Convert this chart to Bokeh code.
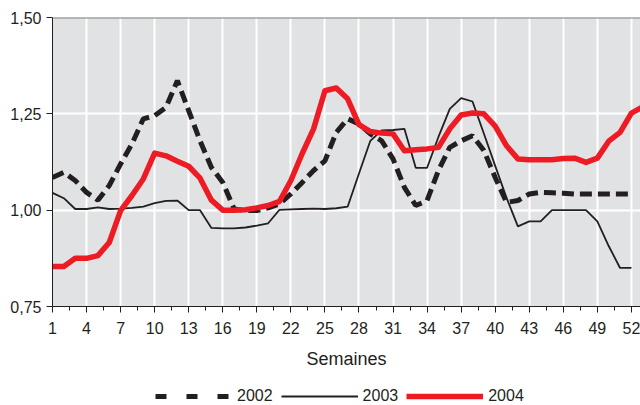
import numpy as np
from bokeh.plotting import figure
from bokeh.layouts import column
from bokeh.models import (FixedTicker, CustomJSTickFormatter, Span, Legend, LegendItem,
                          Range1d, ColumnDataSource)
from bokeh.embed import file_html
from bokeh.resources import INLINE

# ---- data ----
weeks_2002 = list(range(1, 53))
values_2002 = [1.085, 1.098, 1.077, 1.046, 1.026, 1.064, 1.120, 1.172, 1.237, 1.245,
               1.267, 1.336, 1.258, 1.180, 1.111, 1.072, 1.003, 0.999, 0.999, 1.006,
               1.016, 1.042, 1.072, 1.103, 1.128, 1.202, 1.237, 1.224, 1.198, 1.180,
               1.133, 1.059, 1.012, 1.025, 1.103, 1.163, 1.180, 1.193, 1.155, 1.085,
               1.020, 1.025, 1.042, 1.046, 1.045, 1.044, 1.042, 1.042, 1.042, 1.042,
               1.042, 1.042]

weeks_2003 = list(range(1, 53))
values_2003 = [1.045, 1.031, 1.003, 1.003, 1.007, 1.003, 1.004, 1.006, 1.009, 1.018,
               1.024, 1.025, 1.000, 1.000, 0.954, 0.953, 0.953, 0.955, 0.960, 0.966,
               1.001, 1.002, 1.003, 1.004, 1.003, 1.005, 1.009, 1.095, 1.180, 1.207,
               1.208, 1.211, 1.110, 1.110, 1.190, 1.263, 1.291, 1.282, 1.199, 1.115,
               1.032, 0.958, 0.971, 0.971, 1.000, 1.000, 1.000, 1.000, 0.971, 0.907,
               0.850, 0.850]

weeks_2004 = list(range(1, 54))
values_2004 = [0.854, 0.854, 0.875, 0.875, 0.882, 0.916, 0.999, 1.038, 1.081, 1.148,
               1.141, 1.127, 1.114, 1.083, 1.026, 1.000, 1.000, 1.001, 1.006, 1.012,
               1.023, 1.077, 1.147, 1.211, 1.310, 1.317, 1.289, 1.222, 1.204, 1.200,
               1.198, 1.154, 1.157, 1.159, 1.163, 1.211, 1.247, 1.252, 1.250, 1.218,
               1.167, 1.133, 1.131, 1.131, 1.131, 1.134, 1.135, 1.124, 1.135, 1.179,
               1.202, 1.252, 1.268]

series_labels = ["2002", "2003", "2004"]
x_ticks = list(range(1, 53, 3))
x_minor_ticks = [t + 1.5 for t in x_ticks[:-1]]
y_ticks = [0.75, 1.00, 1.25, 1.50]
y_grid_values = [1.00, 1.25]
x_axis_label = "Semaines"

TEXT = "#231f20"
BLACK = "#231f20"
RED = "#ed1c24"
FONT = "Liberation Sans"

p = figure(width=640, height=375, output_backend="svg", toolbar_location=None,
           x_range=Range1d(1, 52.8), y_range=Range1d(0.75, 1.5),
           min_border_left=52, min_border_right=0, min_border_top=17, min_border_bottom=69,
           background_fill_color="#e1e2e4", border_fill_color="white",
           outline_line_color=None)

# grid
p.xgrid.ticker = FixedTicker(ticks=x_ticks)
p.ygrid.ticker = FixedTicker(ticks=y_grid_values)
for g in (p.xgrid, p.ygrid):
    g.grid_line_color = "white"
    g.grid_line_width = 2
    g.grid_line_alpha = 1.0

p.add_layout(Span(location=y_ticks[-1], dimension="width", line_color="#808080", line_width=2))

# axes
xa = p.xaxis[0]
xa.ticker = FixedTicker(ticks=x_ticks, minor_ticks=x_minor_ticks)
xa.axis_label = x_axis_label
xa.major_tick_out = 6
xa.major_tick_in = 0
xa.minor_tick_out = 4
xa.minor_tick_in = 0
xa.major_label_standoff = 9
xa.axis_label_standoff = 12
xa.axis_label_text_font_size = "18px"

ya = p.yaxis[0]
ya.ticker = FixedTicker(ticks=y_ticks)
ya.formatter = CustomJSTickFormatter(code="return tick.toFixed(2).replace('.', ',');")
ya.major_tick_out = 6
ya.major_tick_in = 0
ya.major_label_standoff = 5

for ax in (xa, ya):
    ax.axis_line_color = BLACK
    ax.axis_line_width = 1
    ax.major_tick_line_color = BLACK
    ax.major_label_text_font = FONT
    ax.major_label_text_font_size = "16px"
    ax.major_label_text_color = TEXT
    ax.axis_label_text_font = FONT
    ax.axis_label_text_font_style = "normal"
    ax.axis_label_text_color = TEXT
xa.minor_tick_line_color = BLACK
ya.minor_tick_line_color = None

# lines
src02 = ColumnDataSource(dict(x=weeks_2002, y=values_2002))
src03 = ColumnDataSource(dict(x=weeks_2003, y=values_2003))
src04 = ColumnDataSource(dict(x=weeks_2004, y=values_2004))

p.line("x", "y", source=src02, line_color=BLACK, line_width=5, line_dash="12 6")
p.line("x", "y", source=src03, line_color=BLACK, line_width=1.8)
p.line("x", "y", source=src04, line_color=RED, line_width=5.5, line_join="round")

# ---- legend strip below the chart (its ranges keep the data out of view) ----
lf = figure(width=640, height=30, output_backend="svg", toolbar_location=None,
            x_range=Range1d(-20, -10), y_range=Range1d(-20, -10),
            x_axis_type=None, y_axis_type=None, min_border=0,
            outline_line_color=None, background_fill_color="white",
            border_fill_color="white")
lf.grid.visible = False

l02 = lf.line("x", "y", source=src02, line_color=BLACK, line_width=5, line_dash="11 20")
l03 = lf.line("x", "y", source=src03, line_color=BLACK, line_width=1.8)
l04 = lf.line("x", "y", source=src04, line_color=RED, line_width=5.5)

legend = Legend(items=[LegendItem(label=series_labels[0], renderers=[l02]),
                       LegendItem(label=series_labels[1], renderers=[l03]),
                       LegendItem(label=series_labels[2], renderers=[l04])],
                orientation="horizontal", location=(103, 0),
                glyph_width=77, glyph_height=14, label_height=14,
                label_standoff=5, spacing=8, padding=0, margin=0,
                border_line_color=None, background_fill_alpha=0,
                label_text_font=FONT, label_text_font_size="16px",
                label_text_color=TEXT)
lf.add_layout(legend)

layout = column(p, lf, spacing=0)
open("out.html", "w").write(file_html(layout, INLINE))
